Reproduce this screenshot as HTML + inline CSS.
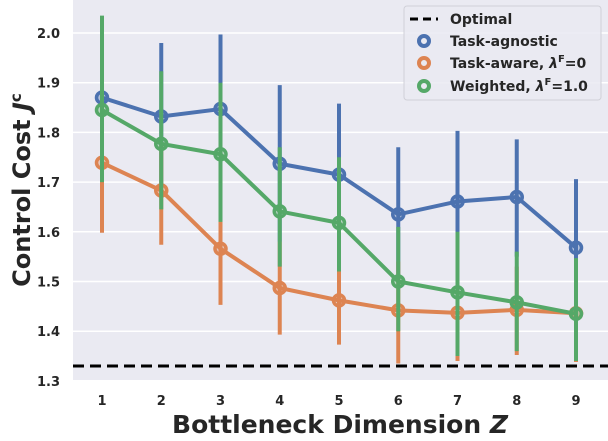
<!DOCTYPE html>
<html><head><meta charset="utf-8">
<style>
html,body{margin:0;padding:0;background:#fff;}
svg text{font-family:"DejaVu Sans","Liberation Sans",sans-serif;font-weight:bold;fill:#262626;}
</style></head>
<body>
<svg id="chart" width="608" height="436" xmlns="http://www.w3.org/2000/svg">
<rect x="73" y="0" width="535" height="380" fill="#eaeaf2"/>
<g id="grid"></g>
<g id="ticks"></g>
<line id="opt" x1="73" x2="608" stroke="#000" stroke-width="3" stroke-dasharray="11,6"/>
<g id="series"></g>
<text x="340" y="433" text-anchor="middle" font-size="25">Bottleneck Dimension <tspan font-style="italic">Z</tspan></text>
<text transform="translate(30,190) rotate(-90)" text-anchor="middle" font-size="24">Control Cost <tspan font-style="italic">J</tspan><tspan font-size="15" dy="-9">c</tspan></text>
<g>
<rect x="404" y="6" width="197" height="94" rx="3" fill="#eaeaf2" fill-opacity="0.85" stroke="#d0d0d8"/>
<line x1="410" x2="438" y1="19" y2="19" stroke="#000" stroke-width="3" stroke-dasharray="8,5"/>
<text x="450" y="24" font-size="14">Optimal</text>
<circle cx="424" cy="41" r="5" fill="none" stroke="#4c72b0" stroke-width="4"/>
<text x="450" y="46" font-size="14">Task-agnostic</text>
<circle cx="424" cy="63" r="5" fill="none" stroke="#dd8452" stroke-width="4"/>
<text x="450" y="68" font-size="14">Task-aware, <tspan font-style="italic">λ</tspan><tspan font-size="10" dy="-6">F</tspan><tspan dy="6">=0</tspan></text>
<circle cx="424" cy="86" r="5" fill="none" stroke="#55a868" stroke-width="4"/>
<text x="450" y="91" font-size="14">Weighted, <tspan font-style="italic">λ</tspan><tspan font-size="10" dy="-6">F</tspan><tspan dy="6">=1.0</tspan></text>
</g>
</svg>
<script>
const categories=[1,2,3,4,5,6,7,8,9];
const yTicks=[1.3,1.4,1.5,1.6,1.7,1.8,1.9,2.0];
const optimal=1.33;
const agnosticMean=[1.870,1.832,1.847,1.737,1.715,1.635,1.661,1.670,1.568];
const agnosticLow=[1.74,1.69,1.70,1.58,1.57,1.50,1.52,1.55,1.45];
const agnosticHigh=[2.00,1.98,1.997,1.895,1.858,1.770,1.803,1.786,1.706];
const awareMean=[1.739,1.683,1.566,1.487,1.462,1.442,1.437,1.443,1.436];
const awareLow=[1.598,1.574,1.453,1.393,1.373,1.335,1.340,1.352,1.338];
const awareHigh=[1.86,1.78,1.68,1.58,1.55,1.54,1.53,1.53,1.53];
const weightedMean=[1.845,1.777,1.756,1.641,1.618,1.500,1.478,1.458,1.435];
const weightedLow=[1.70,1.645,1.62,1.53,1.52,1.40,1.35,1.36,1.34];
const weightedHigh=[2.035,1.923,1.900,1.770,1.750,1.61,1.60,1.56,1.547];

const NS="http://www.w3.org/2000/svg";
const xs=c=>102+(c-1)*59.25;
const ys=v=>33+(2.0-v)*497;
function mk(t,a,p){const e=document.createElementNS(NS,t);for(const k in a)e.setAttribute(k,a[k]);p.appendChild(e);return e;}
const grid=document.getElementById('grid'),ticks=document.getElementById('ticks');
yTicks.forEach(v=>{
  const l=mk('line',{x1:73,x2:608,y1:ys(v),y2:ys(v),stroke:'#fff','stroke-width':1.5},grid);
  
  
  const t=mk('text',{x:60,y:ys(v)+5,'text-anchor':'end','font-size':13},ticks);
  t.textContent=v.toFixed(1);
  
  
});
categories.forEach(c=>{
  const t=mk('text',{x:xs(c),y:405,'text-anchor':'middle','font-size':13},ticks);
  t.textContent=c;
  
  
});
const opt=document.getElementById('opt');opt.setAttribute('y1',ys(optimal));opt.setAttribute('y2',ys(optimal));
const ser=document.getElementById('series');
[[agnosticMean,agnosticLow,agnosticHigh,'#4c72b0','agnostic'],[awareMean,awareLow,awareHigh,'#dd8452','aware'],[weightedMean,weightedLow,weightedHigh,'#55a868','weighted']].forEach(([m,lo,hi,col,nm])=>{
  const g=mk('g',{},ser);
  
  
  categories.forEach((c,i)=>{
    const e=mk('line',{x1:xs(c),x2:xs(c),y1:ys(lo[i]),y2:ys(hi[i]),stroke:col,'stroke-width':4},g);
    
    
  });
  const p=mk('polyline',{points:categories.map((c,i)=>xs(c)+','+ys(m[i])).join(' '),fill:'none',stroke:col,'stroke-width':4},g);
  
  
  categories.forEach((c,i)=>{
    const d=mk('circle',{cx:xs(c),cy:ys(m[i]),r:5.5,fill:col,'fill-opacity':0.35,stroke:col,'stroke-width':3.5},g);
    
    
  });
});
</script>
</body></html>
